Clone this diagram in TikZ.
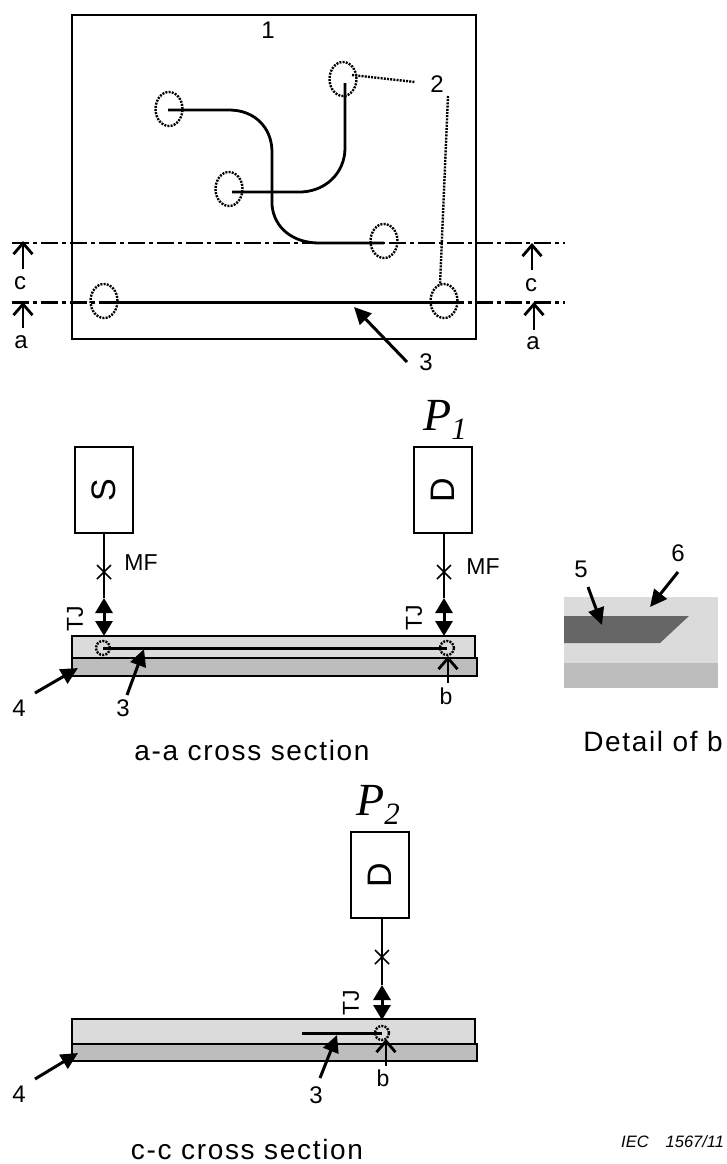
\documentclass[tikz,border=0pt]{standalone}
\usepackage{fontspec}
\setmainfont{Liberation Sans}
\newfontfamily\capfont[LetterSpace=6]{Liberation Sans}
\newfontfamily\pfont[Ligatures=TeX]{Liberation Serif}
\usetikzlibrary{arrows.meta,shapes.geometric}
\tikzset{
  x=1pt,y=-1pt,
  lbl/.style={inner sep=0pt,font=\fontsize{24}{24}\selectfont},
  smalltxt/.style={inner sep=0pt,font=\fontsize{23}{23}\selectfont},
  captext/.style={inner sep=0pt,font=\fontsize{28}{28}\capfont},
  plabel/.style={inner sep=0pt,font=\fontsize{46}{46}\pfont\itshape},
  instr/.style={draw,line width=2.8pt,inner sep=0pt,font=\fontsize{34}{34}\selectfont},
  frameline/.style={line width=2.8pt},
  traceline/.style={line width=2.8pt},
  sectionline/.style={line width=2.8pt,dash pattern=on 17pt off 4pt on 4pt off 4pt},
  dotline/.style={line width=2.4pt,dash pattern=on 2pt off 1.2pt},
  padmark/.style={draw,ellipse,dotline,minimum width=27pt,minimum height=34pt,inner sep=0pt},
  pinmark/.style={draw,circle,dotline,minimum size=14pt,inner sep=0pt},
  pointer/.style={line width=3pt,-{Triangle[length=17pt,width=16pt]}},
  openptr/.style={line width=2.8pt,-{Straight Barb[length=11pt,width=19pt]}},
  probeline/.style={line width=3pt,{Triangle[length=15pt,width=17pt]}-{Triangle[length=15pt,width=17pt]}},
  xmark/.style={line width=1.6pt},
  upperlayer/.style={draw,line width=2.8pt,fill=black!14},
  lowerlayer/.style={draw,line width=2.8pt,fill=black!26},
}
\begin{document}
\begin{tikzpicture}
\useasboundingbox (0,0) rectangle (726,1164);
% --- top view
\draw[frameline] (72,15) rectangle (476,339);
\node[lbl] (n1) at (268,30) {1};
\node[padmark] (p1) at (343,79) {};
\node[padmark] (p2) at (169,109) {};
\node[padmark] (p3) at (229,189) {};
\node[padmark] (p4) at (384,241) {};
\node[padmark] (p5) at (104,301) {};
\node[padmark] (p6) at (444,301) {};
\coordinate (t1) at (168,110);
\coordinate (t2) at (345,83);
\coordinate (t3) at (232,192);
\coordinate (t4) at (384,243);
\coordinate (t5) at (100,302);
\coordinate (t6) at (450,302);
\draw[sectionline] (12,243) -- (565,243);
\draw[sectionline,line width=3pt] (12,302.3) -- (565,302.3);
\draw[traceline] (t1) -- (229,110) .. controls (255,110) and (272,128) .. (272,152) -- (272,205) .. controls (274,228) and (293,243) .. (319,243) -- (t4);
\draw[traceline] (t3) -- (297,192) .. controls (325,193) and (345,173) .. (345,148) -- (t2);
\draw[traceline,line width=3pt] (t5) -- (t6);
\node[lbl] (n2) at (437,84) {2};
\coordinate (d1) at (352,75);
\coordinate (d2) at (415,82);
\coordinate (d3) at (448,96);
\coordinate (d4) at (440,285);
\draw[dotline] (d1) -- (d2);
\draw[dotline] (d3) -- (d4);
\coordinate (ca) at (23,241);
\coordinate (cb) at (23,269);
\coordinate (aa) at (23,302);
\coordinate (ab) at (23,328);
\coordinate (cc) at (532,243);
\coordinate (cd) at (532,270);
\coordinate (ac) at (534,302);
\coordinate (ad) at (534,330);
\draw[openptr] (cb) -- (ca);
\draw[openptr] (ab) -- (aa);
\draw[openptr] (cd) -- (cc);
\draw[openptr] (ad) -- (ac);
\node[lbl] (lc1) at (20,283) {c};
\node[lbl] (la1) at (21,342) {a};
\node[lbl] (lc2) at (531,285) {c};
\node[lbl] (la2) at (533,343) {a};
\node[lbl] (n3) at (426,362) {3};
\coordinate (a3) at (407,362);
\coordinate (a3e) at (354,307);
\draw[pointer] (a3) -- (a3e);
% --- a-a section
\node[plabel] (P1) at (445,420) {P\raisebox{-9pt}{\fontsize{31}{31}\selectfont\itshape 1}};
\node[instr,rotate=90,minimum width=86pt,minimum height=58pt] (S) at (104,490) {S};
\node[instr,rotate=90,minimum width=86pt,minimum height=58pt] (D) at (443,490) {D};
\coordinate (sj) at (104,598);
\coordinate (sb) at (104,636);
\coordinate (dj) at (444,598);
\coordinate (db) at (444,636);
\draw[upperlayer] (72,636) rectangle (475,658);
\draw[lowerlayer] (72,658) rectangle (477,676);
\draw[traceline] (sj |- S.west) -- (sj);
\draw[traceline] (dj |- D.west) -- (dj);
\draw[probeline] (sj) -- (sb);
\draw[probeline] (dj) -- (db);
\draw[xmark] (97,565) -- (111,579) (111,565) -- (97,579);
\draw[xmark] (437,565) -- (451,579) (451,565) -- (437,579);
\node[smalltxt] (mf1) at (141,563) {MF};
\node[smalltxt] (mf2) at (483,567) {MF};
\node[smalltxt,rotate=90] (tj1) at (75,619) {TJ};
\node[smalltxt,rotate=90] (tj2) at (414,618) {TJ};
\node[pinmark] (c1) at (103,648) {};
\node[pinmark] (c2) at (447,648) {};
\draw[line width=3pt] (c1.center) -- (c2.center);
\coordinate (a4) at (35,693);
\coordinate (a4e) at (78,668);
\draw[pointer] (a4) -- (a4e);
\coordinate (a5) at (127,695);
\coordinate (a5e) at (144,649);
\draw[pointer] (a5) -- (a5e);
\coordinate (bb) at (448,683);
\coordinate (be) at (448,656);
\draw[openptr] (bb) -- (be);
\node[lbl] (n4a) at (19,708) {4};
\node[lbl] (n3a) at (123,708) {3};
\node[smalltxt] (lb1) at (446,696) {b};
\node[captext] (capa) at (252,750) {a-a cross section};
% --- detail
\fill[black!14] (564,597) rectangle (718,663);
\fill[black!26] (564,663) rectangle (718,688);
\fill[black!60] (564,616) -- (689,616) -- (660,643) -- (564,643) -- cycle;
\coordinate (a6) at (588,587);
\coordinate (a6e) at (602,625);
\draw[pointer] (a6) -- (a6e);
\coordinate (a7) at (678,572);
\coordinate (a7e) at (650,607);
\draw[pointer] (a7) -- (a7e);
\node[lbl] (n5) at (581,569) {5};
\node[lbl] (n6) at (678,553) {6};
\node[captext] (capb) at (653,741) {Detail of b};
% --- c-c section
\node[plabel] (P2) at (378,805) {P\raisebox{-9pt}{\fontsize{31}{31}\selectfont\itshape 2}};
\node[instr,rotate=90,minimum width=86pt,minimum height=58pt] (D2) at (380,875) {D};
\coordinate (d2j) at (382,985);
\coordinate (d2b) at (382,1020);
\draw[upperlayer] (72,1019) rectangle (475,1044);
\draw[lowerlayer] (72,1044) rectangle (477,1061);
\draw[traceline] (d2j |- D2.west) -- (d2j);
\draw[probeline] (d2j) -- (d2b);
\draw[xmark] (375,950) -- (389,964) (389,950) -- (375,964);
\node[smalltxt,rotate=90] (tj3) at (351,1003) {TJ};
\node[pinmark] (c3) at (382,1033) {};
\coordinate (t3end) at (302,1033);
\draw[line width=3pt] (t3end) -- (c3.center);
\coordinate (a8) at (35,1079);
\coordinate (a8e) at (78,1053);
\draw[pointer] (a8) -- (a8e);
\coordinate (a9) at (320,1078);
\coordinate (a9e) at (337,1035);
\draw[pointer] (a9) -- (a9e);
\coordinate (b2b) at (386,1066);
\coordinate (b2e) at (386,1039);
\draw[openptr] (b2b) -- (b2e);
\node[lbl] (n4b) at (19,1094) {4};
\node[lbl] (n3b) at (316,1095) {3};
\node[smalltxt] (lb2) at (383,1078) {b};
\node[captext] (capc) at (247,1149) {c-c cross section};
\node[inner sep=0pt,anchor=west,font=\fontsize{16.5}{16.5}\selectfont\itshape] (iec) at (621,1142) {IEC\hspace{17pt}1567/11};
\end{tikzpicture}
\end{document}
